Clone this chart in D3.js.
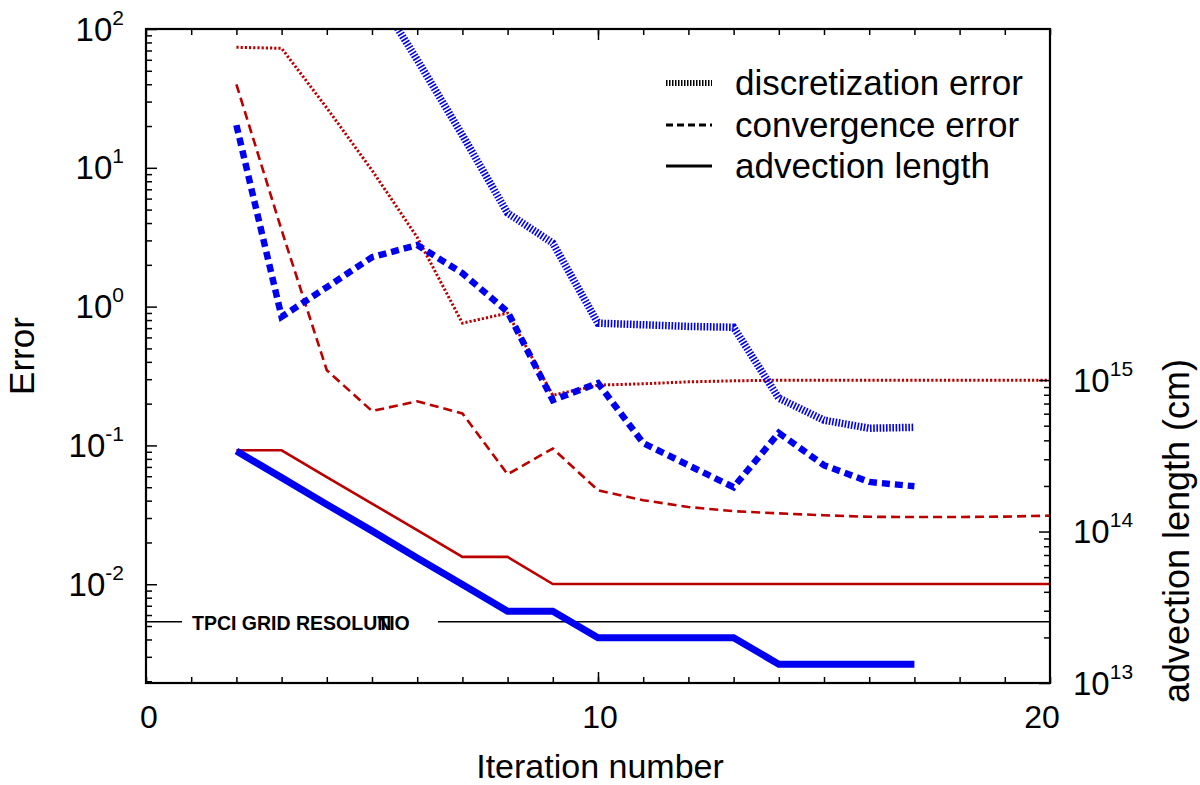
<meta http-equiv="Content-type" content="text/html;charset=UTF-8">
<html>
	<head>
		<title>Error vs iteration</title>
		<script src="https://d3js.org/d3.v7.min.js"></script>
		<style>
			body { margin: 0; background: #fff; }
			text { font-family: "Liberation Sans", Arial, Helvetica, sans-serif; fill: #000; }
		</style>
	</head>
	<body>
		<div id="chart"></div>
		<script>
			// values
			var itersA = [2,3,4,5,6,7,8,9,10,11,12,13,14,15,16,17,18,19,20];   // red runs go to 20
			var itersB = [2,3,4,5,6,7,8,9,10,11,12,13,14,15,16,17];            // blue runs stop at 17
			var itersBlueDisc = [5,6,7,8,9,10,11,12,13,14,15,16,17];

			var redDisc = [73.8,72.6,27,9.6,3.16,0.76,0.898,0.23,0.272,0.278,0.287,0.292,0.295,0.295,0.295,0.295,0.295,0.295,0.295];
			var redConv = [39.9,3.56,0.348,0.177,0.208,0.170,0.062,0.095,0.0475,0.0403,0.036,0.0336,0.0324,0.0314,0.0306,0.0305,0.0305,0.0307,0.0312];
			var redAdv = [3.44e14,3.44e14,2.29e14,1.53e14,1.02e14,6.8e13,6.8e13,4.5e13,4.5e13,4.5e13,4.5e13,4.5e13,4.5e13,4.5e13,4.5e13,4.5e13,4.5e13,4.5e13,4.5e13];

			var blueDisc = [200,60,17.2,4.72,2.87,0.76,0.74,0.72,0.71,0.219,0.152,0.133,0.135];
			var blueConv = [20.3,0.845,1.38,2.27,2.78,1.74,0.918,0.212,0.281,0.104,0.072,0.050,0.123,0.072,0.0546,0.0508];
			var blueAdv = [3.4e14,2.27e14,1.51e14,1.01e14,6.7e13,4.47e13,2.98e13,2.98e13,1.99e13,1.99e13,1.99e13,1.99e13,1.33e13,1.33e13,1.33e13,1.33e13];

			var gridResolution = 2.54e13;   // cm, right axis
			var gridLabel = "TPCI GRID RESOLUTIO";

			var xTicks = [0,10,20];
			var leftExps = [-2,-1,0,1,2];
			var rightExps = [13,14,15];
			var legendLabels = ["discretization error","convergence error","advection length"];

			var W = 1200, H = 785;
			var L = 146, R = 1050, T = 29, B = 683;
			var RED = "#bb0000", BLUE = "#0000f0";

			var svg = d3.select("#chart").append("svg").attr("width", W).attr("height", H);

			var x = d3.scaleLinear().domain([0,20]).range([L,R]);
			var yL = d3.scaleLog().domain([0.001943,100]).range([B,T]);
			var yR = d3.scaleLog().domain([1e13,2.08e17]).range([B,T]);

			svg.append("clipPath").attr("id","clip").append("rect")
				.attr("x",L).attr("y",T).attr("width",R-L).attr("height",B-T);
			var plot = svg.append("g").attr("clip-path","url(#clip)");

			function series(xs, ys, scale, color, width, dash){
				var line = d3.line().x(function(d,i){ return x(xs[i]); }).y(function(d){ return scale(d); });
				plot.append("path").datum(ys).attr("d", line)
					.attr("fill","none").attr("stroke",color).attr("stroke-width",width)
					.attr("stroke-dasharray",dash).attr("stroke-linejoin","miter");
			}

			// grid resolution line with its label (the N sits on top of the T, as in the original)
			var gy = yR(gridResolution);
			var gl = svg.append("text").attr("x",192).attr("y",gy+8).attr("font-size",19.5)
				.attr("font-weight","bold").text(gridLabel);
			var tx = gl.node().getStartPositionOfChar(gridLabel.length-3).x;
			svg.append("text").attr("x",tx).attr("y",gy+8).attr("font-size",19.5)
				.attr("font-weight","bold").text("N");
			plot.append("line").attr("x1",L).attr("x2",182).attr("y1",gy).attr("y2",gy)
				.attr("stroke","#000").attr("stroke-width",1.5);
			plot.append("line").attr("x1",438).attr("x2",R).attr("y1",gy).attr("y2",gy)
				.attr("stroke","#000").attr("stroke-width",1.5);

			series(itersA, redDisc, yL, RED, 3, "2.2,2");
			series(itersA, redConv, yL, RED, 2.6, "9,5");
			series(itersA, redAdv, yR, RED, 2.6, null);
			series(itersBlueDisc, blueDisc, yL, BLUE, 7.5, "1.6,1.6");
			series(itersB, blueConv, yL, BLUE, 6.5, "8,5");
			series(itersB, blueAdv, yR, BLUE, 7, null);

			// axes, ticks pointing inward
			function minorLog(lo, hi){
				var out = [];
				for (var e = lo; e < hi; e++) for (var k = 2; k <= 9; k++) out.push(k*Math.pow(10,e));
				return out;
			}
			function ax(gen, tx0, ty0){
				var g = svg.append("g").attr("transform","translate("+tx0+","+ty0+")").call(gen);
				g.select(".domain").remove();
				g.selectAll(".tick line").attr("stroke","#000").attr("stroke-width",1.5);
				g.selectAll("text").remove();
			}
			var xMinor = d3.range(0,21);
			ax(d3.axisBottom(x).tickValues(xMinor).tickSize(-6), 0, B);
			ax(d3.axisBottom(x).tickValues([10]).tickSize(-11), 0, B);
			ax(d3.axisTop(x).tickValues(xMinor).tickSize(-6), 0, T);
			ax(d3.axisTop(x).tickValues([10]).tickSize(-11), 0, T);
			ax(d3.axisLeft(yL).tickValues(minorLog(-3,2).filter(function(v){ return v >= 0.00195; })).tickSize(-6), L, 0);
			ax(d3.axisLeft(yL).tickValues(leftExps.map(function(e){ return Math.pow(10,e); })).tickSize(-11), L, 0);
			ax(d3.axisRight(yR).tickValues(minorLog(13,15)).tickSize(-6), R, 0);
			ax(d3.axisRight(yR).tickValues(rightExps.map(function(e){ return Math.pow(10,e); })).tickSize(-11), R, 0);

			svg.append("rect").attr("x",L).attr("y",T).attr("width",R-L).attr("height",B-T)
				.attr("fill","none").attr("stroke","#000").attr("stroke-width",2.2);

			// tick labels
			svg.selectAll(".xl").data(xTicks).enter().append("text")
				.attr("x",function(d){ return x(d) + (d === 20 ? -8 : d === 0 ? 3 : 2); }).attr("y",728)
				.attr("text-anchor","middle").attr("font-size",32).text(function(d){ return d; });

			function powLabel(anchorX, yy, e, anchor){
				var t = svg.append("text").attr("x",anchorX).attr("y",yy+11.5)
					.attr("text-anchor",anchor).attr("font-size",33);
				t.append("tspan").text("10");
				t.append("tspan").attr("font-size",21).attr("dy",-16).text(e);
			}
			leftExps.forEach(function(e){ powLabel(124, yL(Math.pow(10,e)), e, "end"); });
			rightExps.forEach(function(e){ powLabel(1073, yR(Math.pow(10,e)), e, "start"); });

			// axis titles
			svg.append("text").attr("transform","translate(34,356) rotate(-90)")
				.attr("text-anchor","middle").attr("font-size",35).text("Error");
			svg.append("text").attr("transform","translate(1189,531) rotate(-90)")
				.attr("text-anchor","middle").attr("font-size",36).text("advection length (cm)");
			svg.append("text").attr("x",600).attr("y",778)
				.attr("text-anchor","middle").attr("font-size",34).text("Iteration number");

			// legend
			var legY = [83,125,166];
			var legStyle = [{w:6,d:"1.5,1.5"},{w:3,d:"7,4"},{w:3,d:null}];
			legendLabels.forEach(function(s,i){
				svg.append("line").attr("x1",666).attr("x2",712).attr("y1",legY[i]).attr("y2",legY[i])
					.attr("stroke","#000").attr("stroke-width",legStyle[i].w).attr("stroke-dasharray",legStyle[i].d);
				svg.append("text").attr("x",735).attr("y",legY[i]+12).attr("font-size",35).text(s);
			});
		</script>
	</body>
</html>
